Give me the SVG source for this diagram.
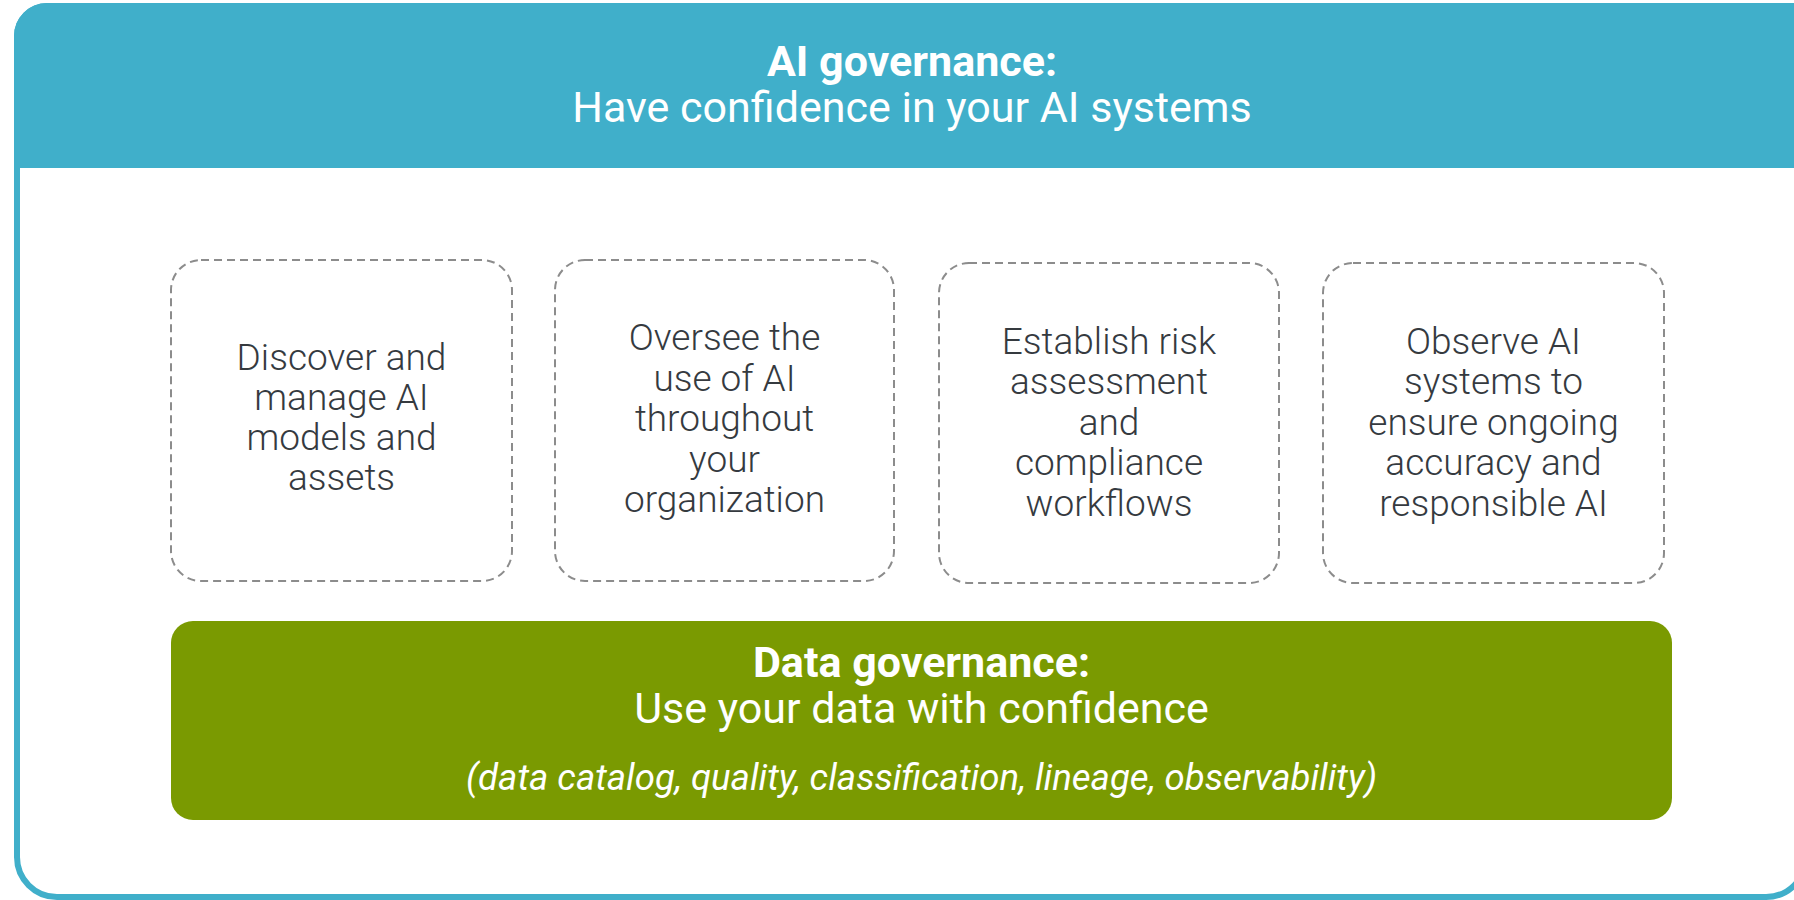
<svg xmlns="http://www.w3.org/2000/svg" width="1794" height="900" viewBox="0 0 1794 900">
  <style>
    .frame { fill: #ffffff; stroke: #40AFCA; stroke-width: 6; }
    .header { fill: #40AFCA; }
    .title { font-family: Roboto, "Liberation Sans", sans-serif; fill: #ffffff; text-anchor: middle; font-size: 43px; }
    .bold { font-weight: 700; }
    .reg { font-weight: 400; }
    .ital { font-style: italic; font-size: 36.6px; }
    .card { fill: #ffffff; stroke: #8c8c8c; stroke-width: 2; stroke-dasharray: 8 5; }
    .cardtext { font-family: Roboto, "Liberation Sans", sans-serif; font-weight: 300; font-size: 37px; fill: #353a3f; text-anchor: middle; }
    .data { fill: #7A9A01; }
  </style>
  <g id="frame">
    <path class="frame" d="M17,36 A30,30 0 0 1 47,6 H1796 A10,10 0 0 1 1806,16 V857 A40,40 0 0 1 1766,897 H57 A40,40 0 0 1 17,857 Z"/>
    <path class="header" d="M14,168 V36 A33,33 0 0 1 47,3 H1809 V168 Z"/>
  </g>
  <g id="ai-governance">
    <text class="title bold" x="912" y="76">AI governance:</text>
    <text class="title reg" x="912" y="122">Have confidence in your AI systems</text>
  </g>
  <g id="card-discover">
    <rect class="card" x="171" y="260" width="341" height="321" rx="30"/>
    <text class="cardtext" x="341.5" y="370">Discover and</text>
    <text class="cardtext" x="341.5" y="410">manage AI</text>
    <text class="cardtext" x="341.5" y="450">models and</text>
    <text class="cardtext" x="341.5" y="490">assets</text>
  </g>
  <g id="card-oversee">
    <rect class="card" x="555" y="260" width="339" height="321" rx="30"/>
    <text class="cardtext" x="724.5" y="350">Oversee the</text>
    <text class="cardtext" x="724.5" y="390.5">use of AI</text>
    <text class="cardtext" x="724.5" y="431">throughout</text>
    <text class="cardtext" x="724.5" y="471.5">your</text>
    <text class="cardtext" x="724.5" y="512">organization</text>
  </g>
  <g id="card-risk">
    <rect class="card" x="939" y="263" width="340" height="320" rx="30"/>
    <text class="cardtext" x="1109" y="353.5">Establish risk</text>
    <text class="cardtext" x="1109" y="394">assessment</text>
    <text class="cardtext" x="1109" y="434.5">and</text>
    <text class="cardtext" x="1109" y="475">compliance</text>
    <text class="cardtext" x="1109" y="515.5">workflows</text>
  </g>
  <g id="card-observe">
    <rect class="card" x="1323" y="263" width="341" height="320" rx="30"/>
    <text class="cardtext" x="1493.5" y="353.5">Observe AI</text>
    <text class="cardtext" x="1493.5" y="394">systems to</text>
    <text class="cardtext" x="1493.5" y="434.5">ensure ongoing</text>
    <text class="cardtext" x="1493.5" y="475">accuracy and</text>
    <text class="cardtext" x="1493.5" y="515.5">responsible AI</text>
  </g>
  <g id="data-governance">
    <rect class="data" x="171" y="621" width="1501" height="199" rx="22"/>
    <text class="title bold" x="921.5" y="677">Data governance:</text>
    <text class="title reg" x="921.5" y="723">Use your data with confidence</text>
    <text class="title reg ital" x="921.5" y="790">(data catalog, quality, classification, lineage, observability)</text>
  </g>
  <g id="connectors"></g>
</svg>
